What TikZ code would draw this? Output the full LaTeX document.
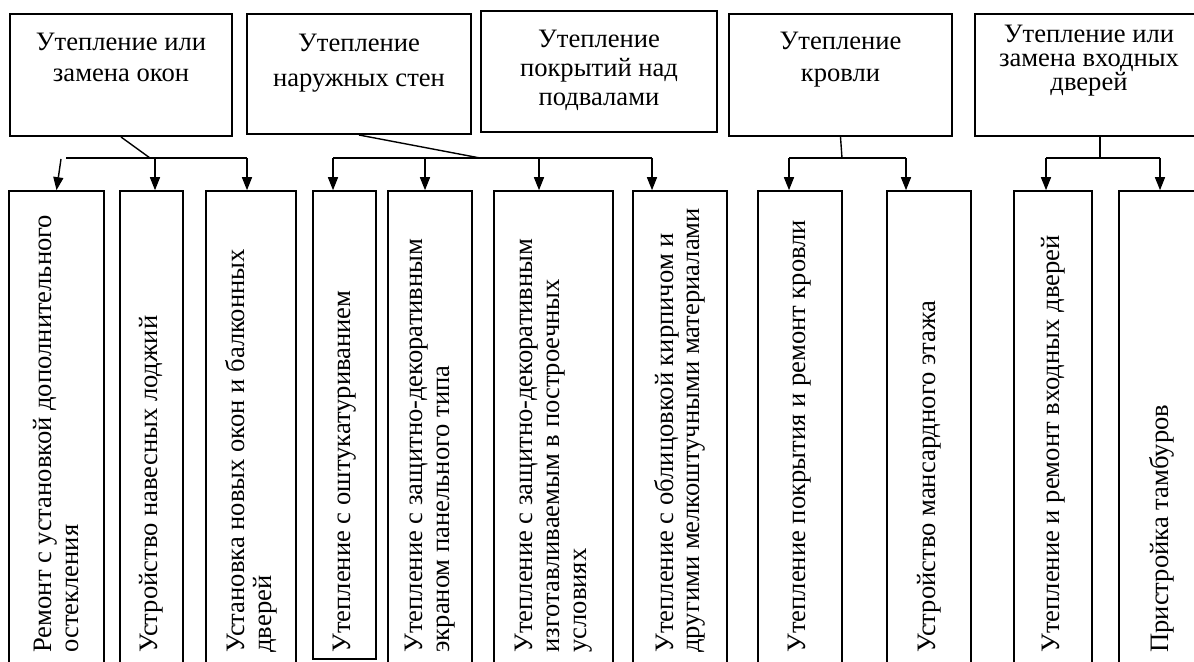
\documentclass[tikz,border=0pt]{standalone}
\usepackage{fontspec}
\setmainfont{Liberation Serif}
\usetikzlibrary{arrows.meta,fit}
\newcommand{\ctrlines}[2]{\vtop{\fontsize{13.3}{#1}\selectfont\halign{\hfil##\hfil\cr#2\crcr}}}
\newcommand{\leftlines}[2]{\vtop{\fontsize{13.3}{#1}\selectfont\halign{##\hfil\cr#2\crcr}}}
\begin{document}
\begin{tikzpicture}[x=0.5pt,y=-0.5pt,
  topbox/.style={draw, line width=1pt, inner sep=0pt},
  botbox/.style={draw, line width=0.8pt, inner sep=0pt},
  toptext/.style={anchor=base, inner sep=0pt},
  bottext/.style={rotate=90, anchor=west, inner sep=0pt},
  link/.style={line width=0.7pt},
  arr/.style={line width=0.7pt, -{Triangle[length=6.5pt,width=5pt]}}
]
\useasboundingbox (0,0) rectangle (1194,662);
\clip (0,0) rectangle (1194,662);

% top boxes
\node[topbox, fit={(10,14) (232,136)}] (tw) {};
\node[topbox, fit={(247,14) (471,134)}] (ts) {};
\node[topbox, fit={(481,11) (717,132)}] (tb) {};
\node[topbox, fit={(729,14) (952,136)}] (tr) {};
\node[topbox, fit={(975,14) (1203,136)}] (td) {};

\node[toptext] (twt) at (121,51) {\ctrlines{15.5pt}{Утепление или\cr замена окон}};
\node[toptext] (tst) at (359,52) {\ctrlines{17.5pt}{Утепление\cr наружных стен}};
\node[toptext] (tbt) at (599,48) {\ctrlines{14.5pt}{Утепление\cr покрытий над\cr подвалами}};
\node[toptext] (trt) at (840.5,50) {\ctrlines{16pt}{Утепление\cr кровли}};
\node[toptext] (tdt) at (1089,43) {\ctrlines{11.8pt}{Утепление или\cr замена входных\cr дверей}};

% bottom boxes
\node[botbox, fit={(9,191) (104,680)}] (b1) {};
\node[botbox, fit={(120,191) (183,680)}] (b2) {};
\node[botbox, fit={(206,191) (296,680)}] (b3) {};
\node[botbox, fit={(313,191) (376,659)}] (b4) {};
\node[botbox, fit={(388,191) (472,680)}] (b5) {};
\node[botbox, fit={(494,191) (613,680)}] (b6) {};
\node[botbox, fit={(633,191) (727,680)}] (b7) {};
\node[botbox, fit={(758,191) (842,680)}] (b8) {};
\node[botbox, fit={(887,191) (971,680)}] (b9) {};
\node[botbox, fit={(1014,191) (1092,680)}] (b10) {};
\node[botbox, fit={(1119,191) (1205,680)}] (b11) {};

\coordinate (base) at (0,653);
\node[bottext] (t1) at (b1.center |- base) {\leftlines{13.5pt}{Ремонт с установкой дополнительного\cr остекления}};
\node[bottext] (t2) at (b2.center |- base) {\leftlines{13.5pt}{Устройство навесных лоджий}};
\node[bottext] (t3) at (b3.center |- base) {\leftlines{13.5pt}{Установка новых окон и балконных\cr дверей}};
\node[bottext] (t4) at (b4.center |- base) {\leftlines{13.5pt}{Утепление с оштукатуриванием}};
\node[bottext] (t5) at (b5.center |- base) {\leftlines{13.5pt}{Утепление с защитно-декоративным\cr экраном панельного типа}};
\node[bottext] (t6) at (b6.center |- base) {\leftlines{13.5pt}{Утепление с защитно-декоративным\cr изготавливаемым в построечных\cr условиях}};
\node[bottext] (t7) at (b7.center |- base) {\leftlines{13pt}{Утепление с облицовкой кирпичом и\cr другими мелкоштучными материалами}};
\node[bottext] (t8) at (b8.center |- base) {\leftlines{13.5pt}{Утепление покрытия и ремонт кровли}};
\node[bottext] (t9) at (b9.center |- base) {\leftlines{13.5pt}{Устройство мансардного этажа}};
\node[bottext] (t10) at (b10.center |- base) {\leftlines{13.5pt}{Утепление и ремонт входных дверей}};
\node[bottext] (t11) at (b11.center |- base) {\leftlines{13.5pt}{Пристройка тамбуров}};

% windows group
\coordinate (jw) at (150,158);
\coordinate (wl) at (66,158);
\coordinate (wr) at (247,158);
\coordinate (wa) at (61,159);
\coordinate (w2) at (155,158);
\draw[link] (tw.south) -- (jw);
\draw[link] (wl) -- (wr);
\draw[arr] (wa) -- (b1.north);
\draw[arr] (w2) -- (w2 |- b2.north);
\draw[arr] (wr) -- (wr |- b3.north);

% walls group
\coordinate (js) at (480,158);
\coordinate (s1) at (333,158);
\coordinate (s2) at (425,158);
\coordinate (s3) at (539,158);
\coordinate (s4) at (652,158);
\draw[link] (ts.south) -- (js);
\draw[link] (s1) -- (s4);
\draw[arr] (s1) -- (s1 |- b4.north);
\draw[arr] (s2) -- (s2 |- b5.north);
\draw[arr] (s3) -- (s3 |- b6.north);
\draw[arr] (s4) -- (s4 |- b7.north);

% roof group
\coordinate (jr) at (842,158);
\coordinate (r1) at (789,158);
\coordinate (r2) at (906,158);
\draw[link] (tr.south) -- (jr);
\draw[link] (r1) -- (r2);
\draw[arr] (r1) -- (r1 |- b8.north);
\draw[arr] (r2) -- (r2 |- b9.north);

% doors group
\coordinate (jd) at (1100,158);
\coordinate (d1) at (1046,158);
\coordinate (d2) at (1160,158);
\draw[link] (jd |- td.south) -- (jd);
\draw[link] (d1) -- (d2);
\draw[arr] (d1) -- (d1 |- b10.north);
\draw[arr] (d2) -- (d2 |- b11.north);
\end{tikzpicture}
\end{document}
